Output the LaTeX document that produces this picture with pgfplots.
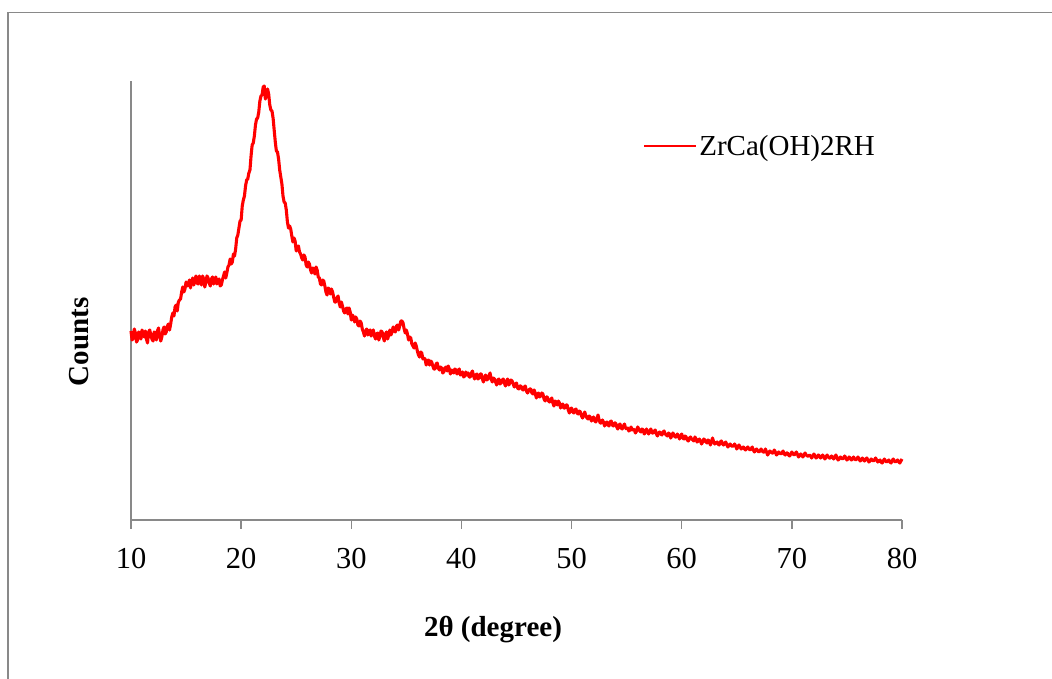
\documentclass[border=0pt]{standalone}
\usepackage{fontspec}
\setmainfont{Liberation Serif}
\usepackage{pgfplots}
\usepackage{pgfplotstable}
\pgfplotsset{compat=1.18}
\definecolor{axgray}{HTML}{898989}
\pgfplotstableread{
x y
10.0 189
10.1 180
10.2 182
10.3 191
10.4 187
10.5 178
10.6 180
10.7 188
10.8 186
10.9 181
11.0 190
11.1 186
11.2 183
11.3 189
11.4 181
11.5 177
11.6 188
11.7 190
11.8 185
11.9 181
12.0 179
12.1 188
12.2 187
12.3 180
12.4 189
12.5 192
12.6 184
12.7 179
12.8 183
12.9 190
13.0 193
13.1 186
13.2 188
13.3 194
13.4 196
13.5 190
13.6 196
13.7 203
13.8 207
13.9 204
14.0 213
14.1 215
14.2 209
14.3 218
14.4 220
14.5 221
14.6 228
14.7 233
14.8 228
14.9 231
15.0 238
15.1 234
15.2 235
15.3 240
15.4 232
15.5 238
15.6 242
15.7 235
15.8 240
15.9 244
16.0 237
16.1 236
16.2 244
16.3 240
16.4 235
16.5 244
16.6 241
16.7 233
16.8 238
16.9 244
17.0 242
17.1 237
17.2 234
17.3 241
17.4 243
17.5 236
17.6 239
17.7 243
17.8 236
17.9 240
18.0 241
18.1 234
18.2 235
18.3 240
18.4 244
18.5 248
18.6 242
18.7 247
18.8 253
18.9 255
19.0 261
19.1 256
19.2 258
19.3 266
19.4 264
19.5 271
19.6 282
19.7 285
19.8 292
19.9 299
20.0 300
20.1 314
20.2 320
20.3 324
20.4 334
20.5 340
20.6 341
20.7 347
20.8 350
20.9 364
21.0 375
21.1 377
21.2 384
21.3 395
21.4 401
21.5 402
21.6 408
21.7 419
21.8 424
21.9 425
22.0 433
22.1 434
22.2 421
22.3 425
22.4 431
22.5 426
22.6 415
22.7 410
22.8 409
22.9 402
23.0 390
23.1 378
23.2 369
23.3 368
23.4 361
23.5 350
23.6 343
23.7 336
23.8 324
23.9 318
24.0 317
24.1 310
24.2 298
24.3 292
24.4 294
24.5 291
24.6 284
24.7 278
24.8 282
24.9 279
25.0 269
25.1 273
25.2 274
25.3 268
25.4 266
25.5 262
25.6 260
25.7 265
25.8 263
25.9 255
26.0 253
26.1 258
26.2 256
26.3 250
26.4 247
26.5 252
26.6 251
26.7 246
26.8 253
26.9 250
27.0 243
27.1 242
27.2 236
27.3 235
27.4 240
27.5 239
27.6 234
27.7 228
27.8 225
27.9 232
28.0 231
28.1 226
28.2 231
28.3 228
28.4 223
28.5 218
28.6 218
28.7 222
28.8 224
28.9 217
29.0 213
29.1 218
29.2 214
29.3 209
29.4 207
29.5 211
29.6 212
29.7 206
29.8 212
29.9 208
30.0 200
30.1 205
30.2 203
30.3 198
30.4 203
30.5 201
30.6 195
30.7 194
30.8 199
30.9 197
31.0 191
31.1 188
31.2 184
31.3 189
31.4 191
31.5 185
31.6 188
31.7 190
31.8 184
31.9 188
32.0 190
32.1 184
32.2 181
32.3 186
32.4 187
32.5 180
32.6 184
32.7 189
32.8 188
32.9 183
33.0 179
33.1 186
33.2 188
33.3 181
33.4 185
33.5 190
33.6 185
33.7 188
33.8 193
33.9 189
34.0 188
34.1 194
34.2 195
34.3 190
34.4 194
34.5 199
34.6 199
34.7 197
34.8 191
34.9 187
35.0 190
35.1 186
35.2 180
35.3 183
35.4 182
35.5 176
35.6 174
35.7 172
35.8 177
35.9 174
36.0 169
36.1 165
36.2 163
36.3 168
36.4 167
36.5 161
36.6 162
36.7 161
36.8 155
36.9 159
37.0 160
37.1 155
37.2 159
37.3 158
37.4 154
37.5 151
37.6 151
37.7 156
37.8 157
37.9 152
38.0 150
38.1 153
38.2 152
38.3 147
38.4 148
38.5 152
38.6 153
38.7 149
38.8 154
38.9 151
39.0 146
39.1 150
39.2 149
39.3 147
39.4 151
39.5 150
39.6 146
39.7 149
39.8 151
39.9 145
40.0 146
40.1 148
40.2 143
40.3 144
40.4 148
40.5 145
40.6 147
40.7 143
40.8 143
40.9 147
41.0 149
41.1 144
41.2 141
41.3 145
41.4 146
41.5 141
41.6 142
41.7 146
41.8 146
41.9 141
42.0 138
42.1 143
42.2 145
42.3 140
42.4 141
42.5 144
42.6 147
42.7 141
42.8 138
42.9 142
43.0 141
43.1 138
43.2 135
43.3 140
43.4 141
43.5 136
43.6 137
43.7 140
43.8 141
43.9 137
44.0 134
44.1 139
44.2 141
44.3 135
44.4 137
44.5 140
44.6 139
44.7 136
44.8 133
44.9 136
45.0 137
45.1 132
45.2 131
45.3 134
45.4 134
45.5 131
45.6 130
45.7 133
45.8 134
45.9 129
46.0 127
46.1 129
46.2 131
46.3 131
46.4 127
46.5 126
46.6 130
46.7 127
46.8 122
46.9 126
47.0 127
47.1 123
47.2 124
47.3 127
47.4 126
47.5 121
47.6 119
47.7 123
47.8 123
47.9 119
48.0 118
48.1 120
48.2 122
48.3 117
48.4 114
48.5 119
48.6 118
48.7 115
48.8 119
48.9 117
49.0 112
49.1 115
49.2 116
49.3 112
49.4 112
49.5 115
49.6 115
49.7 110
49.8 107
49.9 111
50.0 112
50.1 108
50.2 107
50.3 110
50.4 111
50.5 107
50.6 106
50.7 109
50.8 108
50.9 104
51.0 102
51.1 105
51.2 108
51.3 104
51.4 102
51.5 101
51.6 104
51.7 103
51.8 99
51.9 101
52.0 103
52.1 99
52.2 98
52.3 101
52.4 105
52.5 100
52.6 97
52.7 97
52.8 100
52.9 98
53.0 94
53.1 97
53.2 98
53.3 95
53.4 94
53.5 98
53.6 99
53.7 95
53.8 94
53.9 97
54.0 97
54.1 93
54.2 91
54.3 95
54.4 96
54.5 92
54.6 91
54.7 94
54.8 96
54.9 92
55.0 91
55.1 92
55.2 89
55.3 90
55.4 93
55.5 90
55.6 91
55.7 90
55.8 87
55.9 89
56.0 93
56.1 91
56.2 89
56.3 88
56.4 91
56.5 90
56.6 86
56.7 88
56.8 91
56.9 88
57.0 86
57.1 89
57.2 91
57.3 87
57.4 87
57.5 89
57.6 90
57.7 86
57.8 84
57.9 87
58.0 88
58.1 86
58.2 85
58.3 88
58.4 89
58.5 86
58.6 85
58.7 84
58.8 87
58.9 86
59.0 82
59.1 84
59.2 87
59.3 85
59.4 83
59.5 83
59.6 86
59.7 84
59.8 81
59.9 84
60.0 86
60.1 82
60.2 81
60.3 84
60.4 83
60.5 80
60.6 79
60.7 82
60.8 83
60.9 81
61.0 80
61.1 79
61.2 83
61.3 81
61.4 78
61.5 79
61.6 81
61.7 79
61.8 76
61.9 78
62.0 81
62.1 80
62.2 78
62.3 77
62.4 80
62.5 79
62.6 75
62.7 78
62.8 82
62.9 78
63.0 76
63.1 77
63.2 78
63.3 76
63.4 75
63.5 78
63.6 79
63.7 76
63.8 75
63.9 77
64.0 78
64.1 75
64.2 73
64.3 75
64.4 76
64.5 74
64.6 74
64.7 74
64.8 76
64.9 74
65.0 71
65.1 73
65.2 75
65.3 73
65.4 71
65.5 72
65.6 73
65.7 71
65.8 70
65.9 72
66.0 73
66.1 71
66.2 70
66.3 71
66.4 73
66.5 70
66.6 68
66.7 70
66.8 71
66.9 69
67.0 68
67.1 69
67.2 71
67.3 69
67.4 68
67.5 68
67.6 71
67.7 68
67.8 65
67.9 67
68.0 69
68.1 68
68.2 67
68.3 67
68.4 70
68.5 68
68.6 65
68.7 66
68.8 68
68.9 67
69.0 66
69.1 67
69.2 69
69.3 66
69.4 65
69.5 67
69.6 67
69.7 65
69.8 64
69.9 66
70.0 68
70.1 66
70.2 65
70.3 66
70.4 68
70.5 66
70.6 63
70.7 64
70.8 66
70.9 65
71.0 63
71.1 65
71.2 67
71.3 65
71.4 64
71.5 64
71.6 65
71.7 64
71.8 62
71.9 64
72.0 66
72.1 64
72.2 62
72.3 63
72.4 65
72.5 64
72.6 62
72.7 63
72.8 65
72.9 63
73.0 61
73.1 63
73.2 65
73.3 63
73.4 62
73.5 62
73.6 64
73.7 63
73.8 61
73.9 63
74.0 65
74.1 62
74.2 60
74.3 61
74.4 63
74.5 62
74.6 61
74.7 62
74.8 64
74.9 62
75.0 60
75.1 61
75.2 63
75.3 62
75.4 60
75.5 61
75.6 63
75.7 61
75.8 60
75.9 61
76.0 63
76.1 61
76.2 59
76.3 60
76.4 62
76.5 60
76.6 59
76.7 61
76.8 62
76.9 60
77.0 58
77.1 59
77.2 61
77.3 60
77.4 59
77.5 60
77.6 62
77.7 60
77.8 58
77.9 59
78.0 60
78.1 58
78.2 57
78.3 59
78.4 61
78.5 59
78.6 58
78.7 59
78.8 60
78.9 58
79.0 57
79.1 59
79.2 61
79.3 59
79.4 58
79.5 59
79.6 60
79.7 58
79.8 57
79.9 59
80.0 61
}\xrd
\begin{document}
\begin{tikzpicture}
\useasboundingbox (-131pt,-159pt) rectangle (921pt,520pt);
\draw[axgray, line width=1.5pt] (-123pt,-162pt) -- (-123pt,507.5pt) -- (924pt,507.5pt);
\begin{axis}[at={(0pt,0pt)}, anchor=south west, scale only axis,
  width=771pt, height=439pt,
  xmin=10, xmax=80, ymin=0, ymax=439,
  axis x line=bottom, axis y line=left,
  axis line style={axgray, line width=1.5pt, -},
  xtick={10,20,...,80}, ytick=\empty,
  tick style={axgray, line width=1.5pt},
  major tick length=9pt, tick align=outside,
  /pgf/number format/assume math mode=true,
  xticklabel style={font=\fontsize{30.5}{36}\selectfont, anchor=base, yshift=-40pt, inner sep=0pt},
  clip=false,
  legend style={draw=none, fill=none, at={(axis cs:56.49,374)}, anchor=west,
    inner sep=0pt, outer sep=0pt, font=\fontsize{29}{34}\selectfont,
    /tikz/every even column/.append style={column sep=2pt}},
  legend cell align=left,
  legend image code/.code={\draw[#1, line width=2.3pt] (0pt,0pt) -- (52pt,0pt);},
]
\addplot[red, line width=3.1pt, line join=round] table[x=x, y=y] {\xrd};
\addlegendentry{ZrCa(OH)2RH}
\end{axis}
\node[anchor=base, font=\fontsize{29}{34}\selectfont\bfseries] at (362pt,-117pt) {2θ (degree)};
\node[rotate=90, anchor=center, font=\fontsize{29}{34}\selectfont\bfseries] at (-52pt,178pt) {Counts};
\end{tikzpicture}
\end{document}
